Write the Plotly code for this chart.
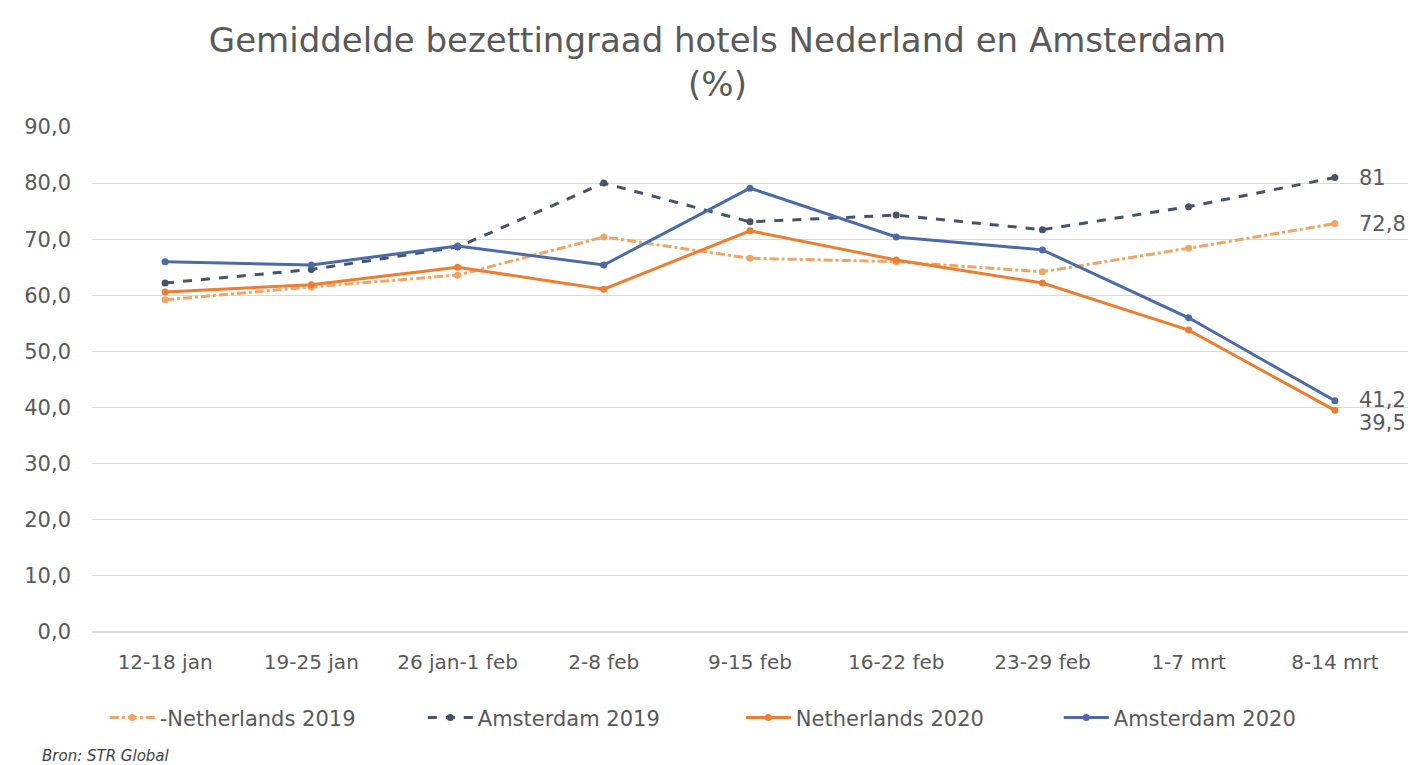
import plotly.graph_objects as go

weeks = ["12-18 jan", "19-25 jan", "26 jan-1 feb", "2-8 feb", "9-15 feb",
         "16-22 feb", "23-29 feb", "1-7 mrt", "8-14 mrt"]
netherlands_2019 = [59.2, 61.5, 63.6, 70.4, 66.6, 66.0, 64.2, 68.4, 72.8]
amsterdam_2019 = [62.2, 64.6, 68.6, 80.0, 73.1, 74.3, 71.7, 75.8, 81.0]
netherlands_2020 = [60.6, 61.9, 65.0, 61.1, 71.5, 66.3, 62.2, 53.8, 39.5]
amsterdam_2020 = [66.0, 65.4, 68.8, 65.4, 79.1, 70.4, 68.1, 56.0, 41.2]
end_labels = {"Netherlands 2019": "72,8", "Amsterdam 2019": "81",
              "Netherlands 2020": "39,5", "Amsterdam 2020": "41,2"}

series = [
    ("-Netherlands 2019", netherlands_2019, "#F0A566", "dashdot", "Netherlands 2019", 0),
    ("Amsterdam 2019", amsterdam_2019, "#44546A", "dash", "Amsterdam 2019", 0),
    ("Netherlands 2020", netherlands_2020, "#ED7D31", "solid", "Netherlands 2020", -13),
    ("Amsterdam 2020", amsterdam_2020, "#4A6BA8", "solid", "Amsterdam 2020", 1),
]

FONT = "DejaVu Sans, Verdana, sans-serif"
GREY = "#595959"

fig = go.Figure()
for name, vals, color, dash, key, yshift in series:
    fig.add_trace(go.Scatter(
        x=weeks, y=vals, name=name, mode="lines+markers",
        line=dict(color=color, width=3, dash=dash),
        marker=dict(color=color, size=7, symbol="circle"),
        cliponaxis=False,
    ))
    fig.add_annotation(x=weeks[-1], y=vals[-1], text=end_labels[key],
                       xref="x", yref="y", xanchor="left", yanchor="middle",
                       xshift=22, yshift=yshift, showarrow=False,
                       font=dict(size=21, color=GREY, family=FONT))

fig.update_layout(
    width=1419, height=757,
    paper_bgcolor="white", plot_bgcolor="white",
    separators=",.",
    font=dict(family=FONT, color=GREY),
    title=dict(text="Gemiddelde bezettingraad hotels Nederland en Amsterdam<br>(%)",
               x=0.5, xanchor="center", xref="container", yref="container",
               y=0.942, yanchor="middle",
               font=dict(size=34, color=GREY, family=FONT)),
    margin=dict(l=84, r=19, t=119, b=133, autoexpand=False),
    xaxis=dict(type="category", range=[-0.5, 8.5], showgrid=False,
               showline=False, ticks="", tickangle=0,
               tickfont=dict(size=20, color=GREY), ticklabelstandoff=16,
               automargin=False),
    yaxis=dict(range=[0, 90], dtick=10, tickformat=".1f", showgrid=True,
               gridcolor="#D9D9D9", gridwidth=1, zeroline=True,
               zerolinecolor="#D9D9D9", showline=False, ticks="",
               tickfont=dict(size=21, color=GREY), ticklabelstandoff=20,
               automargin=False),
    legend=dict(orientation="h", x=0.493, xanchor="center",
                y=-0.17, yanchor="middle", font=dict(size=21, color=GREY),
                itemwidth=45, traceorder="normal",
                entrywidthmode="pixels", entrywidth=258),
    showlegend=True,
)
fig.add_annotation(text="<i>Bron: STR Global</i>", xref="paper", yref="paper",
                   x=-0.0395, y=-0.245, xanchor="left", yanchor="middle",
                   showarrow=False, font=dict(size=15, color="#404040"))
fig.write_html("out.html")
